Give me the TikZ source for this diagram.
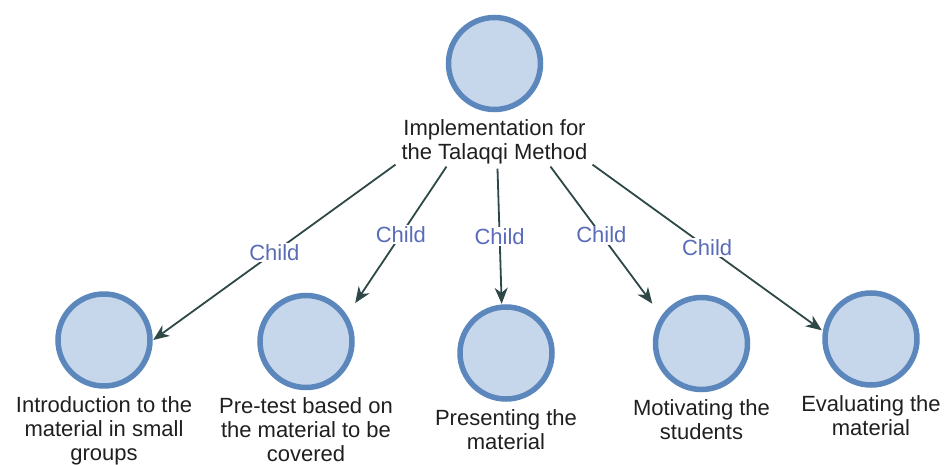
\documentclass[tikz,border=0pt]{standalone}
\usepackage{fontspec}
\setmainfont{Liberation Sans}
\usetikzlibrary{arrows.meta,positioning}
\definecolor{circfill}{HTML}{C6D6EB}
\definecolor{circline}{HTML}{5B87BD}
\definecolor{arrline}{HTML}{2E4848}
\definecolor{tagblue}{HTML}{5A6CB8}
\tikzset{
  circ/.style={minimum size=98pt,inner sep=0pt,
    path picture={\draw[draw=circline,fill=circfill,line width=5.5pt]
      (path picture bounding box.center) circle (46pt);}},
  lbl/.style={align=center,inner sep=0pt,font=\fontsize{22}{24}\selectfont,text=black!88},
  arr/.style={-{Stealth[length=16pt,width=13pt,inset=5pt]},line width=1.8pt,arrline},
  tag/.style={fill=white,inner sep=1.5pt,text=tagblue,font=\fontsize{22}{24}\selectfont},
}

\begin{document}
\begin{tikzpicture}[x=1pt,y=-1pt]
\useasboundingbox (0,0) rectangle (946,465);
% parent
\node[circ] (root) at (494.5,63.5) {};
\node[lbl,below=7pt of root] (rl) {Implementation for\\the Talaqqi Method};
% children
\node[circ] (c1) at (104,340) {};
\node[circ] (c2) at (306,341.5) {};
\node[circ] (c3) at (506,353) {};
\node[circ] (c4) at (701.5,343.5) {};
\node[circ] (c5) at (871,339) {};
\node[lbl,below=7pt of c1] (l1) {Introduction to the\\material in small\\groups};
\node[lbl,below=7pt of c2] (l2) {Pre-test based on\\the material to be\\covered};
\node[lbl,below=7pt of c3] (l3) {Presenting the\\material};
\node[lbl,below=7pt of c4] (l4) {Motivating the\\students};
\node[lbl,below=7pt of c5] (l5) {Evaluating the\\material};
% links
\draw[arr] ([xshift=-99pt]rl.south) -- node[tag] {Child} (c1.east);
\draw[arr] ([xshift=-48pt,yshift=-2pt]rl.south) -- node[tag] {Child} (c2.38.6);
\draw[arr] ([xshift=3pt,yshift=-4pt]rl.south) -- node[tag] {Child} (c3.95);
\draw[arr] ([xshift=56pt,yshift=-2pt]rl.south) -- node[tag] {Child} (c4.141);
\draw[arr] ([xshift=98pt]rl.south) -- node[tag] {Child} (c5.170);
\end{tikzpicture}
\end{document}
